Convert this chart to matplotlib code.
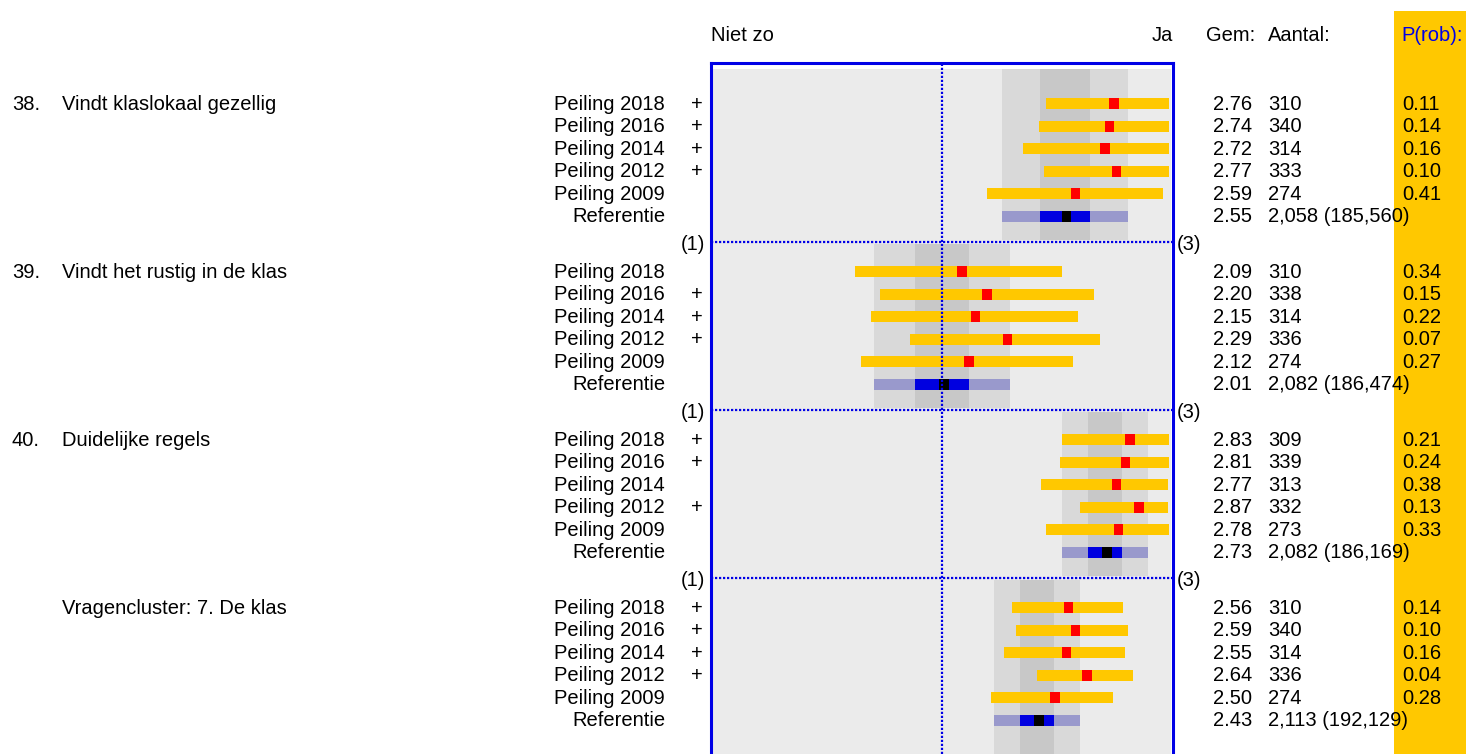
import matplotlib
matplotlib.use("Agg")
import matplotlib.pyplot as plt
from matplotlib.patches import Rectangle
from matplotlib.transforms import blended_transform_factory

plt.rcParams['font.family'] = ['Liberation Sans', 'DejaVu Sans']

# ---------------- data ----------------
item_numbers = ["38.", "39.", "40.", ""]
item_labels = ["Vindt klaslokaal gezellig", "Vindt het rustig in de klas",
               "Duidelijke regels", "Vragencluster: 7. De klas"]
row_labels = ["Peiling 2018", "Peiling 2016", "Peiling 2014",
              "Peiling 2012", "Peiling 2009", "Referentie"]

gem = [[2.76, 2.74, 2.72, 2.77, 2.59, 2.55],
       [2.09, 2.20, 2.15, 2.29, 2.12, 2.01],
       [2.83, 2.81, 2.77, 2.87, 2.78, 2.73],
       [2.56, 2.59, 2.55, 2.64, 2.50, 2.43]]
aantal = [["310", "340", "314", "333", "274", "2,058 (185,560)"],
          ["310", "338", "314", "336", "274", "2,082 (186,474)"],
          ["309", "339", "313", "332", "273", "2,082 (186,169)"],
          ["310", "340", "314", "336", "274", "2,113 (192,129)"]]
p_rob = [["0.11", "0.14", "0.16", "0.10", "0.41"],
         ["0.34", "0.15", "0.22", "0.07", "0.27"],
         ["0.21", "0.24", "0.38", "0.13", "0.33"],
         ["0.14", "0.10", "0.16", "0.04", "0.28"]]
plus = [["+", "+", "+", "+", ""],
        ["", "+", "+", "+", ""],
        ["+", "+", "", "+", ""],
        ["+", "+", "+", "+", ""]]

bar_low = [[2.46, 2.43, 2.36, 2.45, 2.20],
           [1.62, 1.73, 1.69, 1.86, 1.645],
           [2.53, 2.52, 2.44, 2.61, 2.46],
           [2.31, 2.33, 2.275, 2.42, 2.22]]
bar_high = [[3.00, 3.00, 3.00, 3.00, 2.975],
            [2.53, 2.67, 2.60, 2.70, 2.58],
            [3.00, 3.00, 3.00, 3.00, 3.00],
            [2.80, 2.82, 2.81, 2.845, 2.755]]
ref_outer = [(2.267, 2.822), (1.703, 2.302), (2.531, 2.910), (2.231, 2.610)]
ref_inner = [(2.434, 2.654), (1.883, 2.121), (2.646, 2.795), (2.346, 2.496)]

# ---------------- style ----------------
W, H = 1466, 754
BLUE = '#0000E6'
ORANGE = '#FFC800'
RED = '#FF0000'
BG = '#EBEBEB'
BAND1 = '#D9D9D9'
BAND2 = '#C8C8C8'
REF_OUT = '#9999CC'
REF_IN = '#0000E0'
FS = 14.5

PITCH = 22.6          # px per row
Y0 = 103.5            # px of first row
BLOCK = 168.0 / PITCH  # rows per block
SEP = 6.13
MW = 0.042            # marker width (scale units)
BH = 0.49             # bar height (rows)


def px2y(p):
    return (p - Y0) / PITCH


fig = plt.figure(figsize=(W / 100, H / 100), dpi=100)
ax = fig.add_axes([711 / W, 0, (1173 - 711) / W, (H - 63) / H])
xl = (2 + (711 - 941.5) / 227, 2 + (1173 - 941.5) / 227)
ax.set_xlim(*xl)
ylim_bot = px2y(H)
ax.set_ylim(ylim_bot, px2y(63))
ax.set_xticks([])
ax.set_yticks([])
for s in ['left', 'right', 'top']:
    ax.spines[s].set_color(BLUE)
    ax.spines[s].set_linewidth(2.2)
ax.spines['bottom'].set_visible(False)

# background
xbg0 = 2 + (713 - 941.5) / 227
xbg1 = 2 + (1171 - 941.5) / 227
ax.add_patch(Rectangle((xbg0, px2y(69)), xbg1 - xbg0, ylim_bot - px2y(69),
                       facecolor=BG, edgecolor='none', zorder=0))

seps = [b * BLOCK + SEP for b in range(3)]
gap = 2 / PITCH
for b in range(4):
    top = px2y(69) if b == 0 else seps[b - 1] + gap
    bot = seps[b] - gap if b < 3 else ylim_bot
    lo, hi = ref_outer[b]
    ax.barh((top + bot) / 2, hi - lo, left=lo, height=bot - top,
            color=BAND1, zorder=1)
    lo, hi = ref_inner[b]
    ax.barh((top + bot) / 2, hi - lo, left=lo, height=bot - top,
            color=BAND2, zorder=1)

    for r in range(5):
        y = b * BLOCK + r
        ax.barh(y, bar_high[b][r] - bar_low[b][r], left=bar_low[b][r],
                height=BH, color=ORANGE, zorder=3)
        ax.barh(y, MW, left=gem[b][r] - MW / 2, height=BH, color=RED, zorder=4)
    y = b * BLOCK + 5
    lo, hi = ref_outer[b]
    ax.barh(y, hi - lo, left=lo, height=BH, color=REF_OUT, zorder=3)
    lo, hi = ref_inner[b]
    ax.barh(y, hi - lo, left=lo, height=BH, color=REF_IN, zorder=3)
    ax.barh(y, MW, left=gem[b][5] - MW / 2, height=BH, color='black', zorder=4)

# dotted lines
ax.axvline(2, color=BLUE, lw=1.6, ls=(0, (1, 0.8)), zorder=5)
for s in seps:
    ax.plot(xl, [s, s], color=BLUE, lw=1.6, ls=(0, (1, 0.8)), zorder=5,
            clip_on=False)

# orange column
fig.patches.append(Rectangle((1394 / W, 0), (W - 1394) / W, (H - 11) / H,
                             transform=fig.transFigure, facecolor=ORANGE,
                             edgecolor='none', zorder=0))

# headers
hy = 1 - 41 / H
fig.text(711 / W, hy, "Niet zo", fontsize=FS, ha='left', va='baseline')
fig.text(1173 / W, hy, "Ja", fontsize=FS, ha='right', va='baseline')
fig.text(1206 / W, hy, "Gem:", fontsize=FS, ha='left', va='baseline')
fig.text(1268 / W, hy, "Aantal:", fontsize=FS, ha='left', va='baseline')
fig.text(1401 / W, hy, "P(rob):", fontsize=FS, ha='left', va='baseline',
         color=BLUE)

tr = blended_transform_factory(fig.transFigure, ax.transData)
BL = 6 / PITCH
for b in range(4):
    y0 = b * BLOCK
    fig.text(12 / W, y0 + BL, item_numbers[b], transform=tr, fontsize=FS,
             ha='left', va='baseline')
    fig.text(62 / W, y0 + BL, item_labels[b], transform=tr, fontsize=FS,
             ha='left', va='baseline')
    for r in range(6):
        y = y0 + r + BL
        fig.text(665 / W, y, row_labels[r], transform=tr, fontsize=FS,
                 ha='right', va='baseline')
        if r < 5 and plus[b][r]:
            fig.text(697 / W, y, plus[b][r], transform=tr, fontsize=FS,
                     ha='center', va='baseline')
        fig.text(1213 / W, y, f"{gem[b][r]:.2f}", transform=tr, fontsize=FS,
                 ha='left', va='baseline')
        fig.text(1268 / W, y, aantal[b][r], transform=tr, fontsize=FS,
                 ha='left', va='baseline')
        if r < 5:
            fig.text(1402 / W, y, p_rob[b][r], transform=tr, fontsize=FS,
                     ha='left', va='baseline')
    if b < 3:
        sy = seps[b] + 7.5 / PITCH
        fig.text(705 / W, sy, "(1)", transform=tr, fontsize=FS,
                 ha='right', va='baseline')
        fig.text(1177 / W, sy, "(3)", transform=tr, fontsize=FS,
                 ha='left', va='baseline')

fig.savefig("out.png", dpi=100)
